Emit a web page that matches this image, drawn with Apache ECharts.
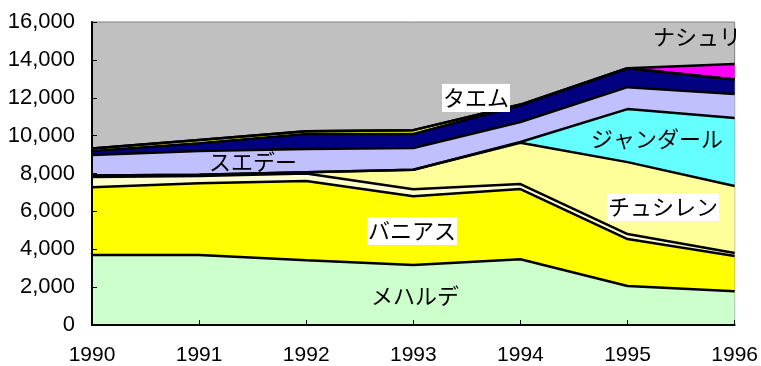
<!DOCTYPE html>
<html>
<head>
<meta charset="utf-8">
<script src="https://cdn.jsdelivr.net/npm/echarts@6/dist/echarts.min.js"></script>
<style>
  html, body { margin: 0; padding: 0; background: #fff; }
  #chart { width: 761px; height: 366px; }
</style>
</head>
<body>
<div id="chart"></div>
<script>
// Years on the horizontal axis
const years = ['1990', '1991', '1992', '1993', '1994', '1995', '1996'];

// Stacked layers, bottom to top
const mehalde   = [3700, 3700, 3420, 3170, 3470, 2060, 1780];
const banias    = [3570, 3780, 4180, 3630, 3710, 2480, 1860];
const creamBand = [540, 390, 400, 370, 260, 260, 160];
const chusilen  = [90, 60, 60, 1030, 2180, 3800, 3540];
const jandal    = [0, 0, 0, 0, 40, 2800, 3590];
const suede     = [1080, 1260, 1240, 1150, 1060, 1160, 1270];
const navyBand  = [210, 410, 780, 740, 880, 1000, 760];
const taem      = [130, 170, 150, 200, 40, 0, 0];
const nashuri   = [0, 0, 0, 0, 0, 0, 820];

// Value axis ticks
const yMin = 0, yMax = 16000, yStep = 2000;

const layers = [
  { name: 'メハルデ', data: mehalde, color: '#CCFFCC' },
  { name: 'バニアス', data: banias, color: '#FFFF00' },
  { name: 'creamBand', data: creamBand, color: '#FFFFCC' },
  { name: 'チュシレン', data: chusilen, color: '#FFFF99' },
  { name: 'ジャンダール', data: jandal, color: '#66FFFF' },
  { name: 'スエデー', data: suede, color: '#C0C0FF' },
  { name: 'navyBand', data: navyBand, color: '#000080' },
  { name: 'タエム', data: taem, color: '#FFFF00' },
  { name: 'ナシュリ', data: nashuri, color: '#FF00FF' }
];

const series = [];
// filled areas
layers.forEach(l => {
  series.push({
    name: l.name, type: 'line', stack: 'area', data: l.data,
    symbol: 'none', silent: true, z: 2,
    lineStyle: { width: 0 },
    areaStyle: { color: l.color, opacity: 1 }
  });
});
// black outlines on top of every layer
layers.forEach(l => {
  series.push({
    name: l.name + '-edge', type: 'line', stack: 'edge', data: l.data,
    symbol: 'none', silent: true, z: 3,
    lineStyle: { color: '#000', width: 2.5 }
  });
});

const jp = '22px "Noto Sans CJK JP", sans-serif';
function tag(text, x, y, boxed) {
  const style = { text, x, y, font: jp, fill: '#000', align: 'center', verticalAlign: 'middle' };
  if (boxed) { style.backgroundColor = '#fff'; style.padding = [3, 1]; }
  return { type: 'text', z: 100, style };
}

const chart = echarts.init(document.getElementById('chart'), null, { renderer: 'canvas' });
chart.setOption({
  animation: false,
  grid: {
    left: 92, right: 25, top: 22, bottom: 41,
    show: true, backgroundColor: '#C0C0C0', borderColor: '#808080', borderWidth: 1
  },
  xAxis: {
    type: 'category', data: years, boundaryGap: false,
    axisLine: { lineStyle: { color: '#000', width: 2 } },
    axisTick: { inside: true, length: 5, lineStyle: { color: '#000', width: 1 } },
    axisLabel: { color: '#000', fontSize: 21, fontFamily: '"Liberation Sans", Arial, sans-serif', margin: 20 },
    splitLine: { show: false }, z: 10
  },
  yAxis: {
    type: 'value', min: yMin, max: yMax, interval: yStep,
    axisLine: { show: true, lineStyle: { color: '#000', width: 2 } },
    axisTick: { show: true, inside: true, length: 5, lineStyle: { color: '#000', width: 1 } },
    axisLabel: {
      color: '#000', fontSize: 22, fontFamily: '"Liberation Sans", Arial, sans-serif', margin: 17,
      formatter: v => v.toLocaleString('en-US')
    },
    splitLine: { show: false }, z: 10
  },
  series,
  graphic: [
    tag('ナシュリ', 697, 37, false),
    tag('タエム', 476, 98, true),
    tag('ジャンダール', 657, 139, false),
    tag('スエデー', 253, 162, false),
    tag('チュシレン', 663, 207, true),
    tag('バニアス', 412, 231, true),
    tag('メハルデ', 415, 296, false)
  ]
});
</script>
</body>
</html>
